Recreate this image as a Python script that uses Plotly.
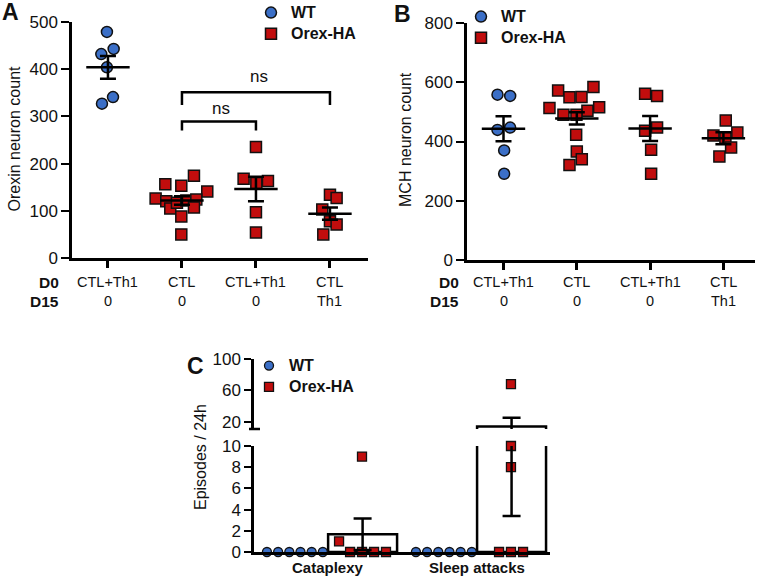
import plotly.graph_objects as go

W, H = 765, 579
def fx(px): return px / W
def fy(py): return 1 - py / H

# ---------------- data ----------------
cat_pos = [0, 1, 2, 3]
d0_labels = ["CTL+Th1", "CTL", "CTL+Th1", "CTL"]
d15_labels = ["0", "0", "0", "Th1"]

# Panel A : orexin neuron count
a_wt = [479, 432, 443, 404, 341, 327]
a_ctl = [126, 120, 105, 156, 153, 174, 141, 117, 122, 124, 107, 88, 50]
a_ctlth1 = [168, 235, 159, 163, 97, 54]
a_th1 = [134, 127, 103, 78, 71, 50]
a_mean = [404, 122, 146, 94]
a_sem = [24, 9, 26, 13]

# Panel B : MCH neuron count
b_wt = [558, 554, 439, 447, 370, 291]
b_ctl = [513, 572, 549, 550, 584, 516, 504, 490, 490, 423, 366, 340, 321]
b_ctlth1 = [561, 554, 436, 447, 372, 291]
b_th1 = [471, 420, 430, 413, 380, 349]
b_mean = [443, 478, 444, 411]
b_sem = [42, 21, 42, 20]

# Panel C : episodes / 24h
c_groups = ["Cataplexy", "Sleep attacks"]
c_wt_cat = [0, 0, 0, 0, 0, 0]
c_wt_sleep = [0, 0, 0, 0, 0, 0]
c_orex_cat = [1, 0, 0, 9, 0, 0]
c_orex_sleep = [0, 0, 68, 10, 8, 0]
c_mean = [1.67, 14.3]
c_sem = [1.48, 10.9]

# ---------------- layout helpers (scatter offsets) ----------------
a_off = [
    [-0.014, -0.09, 0.077, -0.014, 0.068, -0.081],
    [-0.356, -0.212, -0.158, -0.225, -0.009, 0.162, 0.342, -0.068, 0.059, 0.194, 0.162, -0.009, -0.009],
    [-0.167, 0.0, 0.005, 0.162, 0.0, 0.0],
    [0.0, 0.09, -0.104, 0.0, 0.09, -0.09],
]
b_off = [
    [-0.082, 0.091, -0.082, 0.091, 0.009, 0.009],
    [-0.373, -0.255, -0.1, 0.064, 0.227, 0.305, 0.145, -0.182, -0.005, -0.009, 0.0, 0.068, -0.1],
    [-0.068, 0.095, -0.068, 0.095, 0.014, 0.014],
    [0.032, -0.136, 0.19, 0.027, 0.105, -0.055],
]
c_group_x = [1, 2]
c_wt_off = [-0.41 + 0.075 * i for i in range(6)]
c_orex_cat_off = [0.074, 0.148, 0.228, 0.228, 0.309, 0.389]
c_orex_sleep_off = [0.148, 0.228, 0.228, 0.228, 0.228, 0.309]
c_bar_off, c_bar_w = 0.232, 0.463

BLUE = "#3b6fc7"
RED = "#c10d0d"
FONT = "Arial, Liberation Sans, sans-serif"
INK = "#111"

def legname(s):
    return "<span style='font-size:16px'><b>%s</b></span>" % s

fig = go.Figure()

def jitter(cat, offs):
    return [cat + o for o in offs]

def scatter_panel(xa, ya, groups, offs, means, sems, legend):
    fig.add_trace(go.Scatter(
        x=jitter(cat_pos[0], offs[0]), y=groups[0], mode="markers", name=legname("WT"),
        marker=dict(symbol="circle", size=11, color=BLUE, line=dict(color=INK, width=1.5)),
        xaxis=xa, yaxis=ya, legend=legend, showlegend=True, cliponaxis=False))
    for k in range(1, 4):
        fig.add_trace(go.Scatter(
            x=jitter(cat_pos[k], offs[k]), y=groups[k], mode="markers", name=legname("Orex-HA"),
            marker=dict(symbol="square", size=11, color=RED, line=dict(color=INK, width=1.5)),
            xaxis=xa, yaxis=ya, legend=legend, showlegend=(k == 1), cliponaxis=False))
    fig.add_trace(go.Scatter(
        x=cat_pos, y=means, mode="markers", showlegend=False,
        marker=dict(symbol="line-ew", size=31, color="black", line=dict(color="black", width=2.5)),
        error_y=dict(type="data", array=sems, visible=True, color="black", thickness=2.5, width=8),
        xaxis=xa, yaxis=ya, cliponaxis=False))

scatter_panel("x", "y", [a_wt, a_ctl, a_ctlth1, a_th1], a_off, a_mean, a_sem, "legend")
scatter_panel("x2", "y2", [b_wt, b_ctl, b_ctlth1, b_th1], b_off, b_mean, b_sem, "legend2")

# brackets in A
bracket_pairs = [[1, 2], [1, 3]]
bracket_tops = [289, 351]
bracket_feet = [270, 324]
bracket_text_x = [1.53, 2.04]
bracket_text_y = [317, 384]
for (l, r), top, foot in zip(bracket_pairs, bracket_tops, bracket_feet):
    fig.add_trace(go.Scatter(x=[l, l, r, r], y=[foot, top, top, foot], mode="lines",
                             line=dict(color="black", width=2.5), showlegend=False,
                             xaxis="x", yaxis="y", hoverinfo="skip"))

# ---------------- panel C ----------------
BREAK_LO, BREAK_HI = 10, 11
def split(xs, ys, low=True):
    if low:
        pts = [(a, b) for a, b in zip(xs, ys) if b <= BREAK_LO]
    else:
        pts = [(a, b) for a, b in zip(xs, ys) if b >= BREAK_HI]
    return [p[0] for p in pts], [p[1] for p in pts]

bar_x = [g + c_bar_off for g in c_group_x]
for ya, xa in (("y3", "x3"), ("y4", "x4")):
    fig.add_trace(go.Bar(x=bar_x, y=c_mean, width=c_bar_w, marker=dict(color="rgba(0,0,0,0)",
                         line=dict(color="black", width=2.5)), showlegend=False,
                         xaxis=xa, yaxis=ya, hoverinfo="skip"))

wt_x = jitter(c_group_x[0], c_wt_off) + jitter(c_group_x[1], c_wt_off)
wt_y = c_wt_cat + c_wt_sleep
or_x = jitter(c_group_x[0], c_orex_cat_off) + jitter(c_group_x[1], c_orex_sleep_off)
or_y = c_orex_cat + c_orex_sleep

for low, xa, ya in ((True, "x3", "y3"), (False, "x4", "y4")):
    xs, ys = split(wt_x, wt_y, low)
    fig.add_trace(go.Scatter(x=xs, y=ys, mode="markers", name=legname("WT"),
                             marker=dict(symbol="circle", size=9, color=BLUE, line=dict(color=INK, width=1.3)),
                             xaxis=xa, yaxis=ya, legend="legend3", showlegend=low, cliponaxis=False))
    xs, ys = split(or_x, or_y, low)
    fig.add_trace(go.Scatter(x=xs, y=ys, mode="markers", name=legname("Orex-HA"),
                             marker=dict(symbol="square", size=9, color=RED, line=dict(color=INK, width=1.3)),
                             xaxis=xa, yaxis=ya, legend="legend3", showlegend=low, cliponaxis=False))
    fig.add_trace(go.Scatter(x=bar_x, y=c_mean, mode="markers", showlegend=False,
                             marker=dict(size=1, color="rgba(0,0,0,0)"),
                             error_y=dict(type="data", array=c_sem, visible=True, color="black",
                                          thickness=2.5, width=9),
                             xaxis=xa, yaxis=ya, hoverinfo="skip"))

# ---------------- axes ----------------
axis_common = dict(showline=True, linecolor="black", linewidth=2.5, showgrid=False, zeroline=False,
                   ticks="outside", tickcolor="black", tickwidth=2,
                   tickfont=dict(family=FONT, size=17, color=INK))

fig.update_layout(
    width=W, height=H, margin=dict(l=0, r=0, t=0, b=0, autoexpand=False),
    plot_bgcolor="white", paper_bgcolor="white", barmode="overlay",
    font=dict(family=FONT, color=INK),
    xaxis=dict(axis_common, domain=[fx(72), fx(368)], range=[-0.486, 3.514], anchor="y",
               tickvals=cat_pos, showticklabels=False, ticklen=7, tickwidth=2.5),
    yaxis=dict(axis_common, domain=[fy(258), fy(22)], range=[0, 500], anchor="x",
               tickvals=[0, 100, 200, 300, 400, 500], ticklen=8),
    xaxis2=dict(axis_common, domain=[fx(467), fx(755)], range=[-0.498, 3.431], anchor="y2",
                tickvals=cat_pos, showticklabels=False, ticklen=7, tickwidth=2.5),
    yaxis2=dict(axis_common, domain=[fy(260), fy(23)], range=[0, 800], anchor="x2",
                tickvals=[0, 200, 400, 600, 800], ticklen=8),
    xaxis3=dict(axis_common, domain=[fx(254), fx(550)], range=[0.503, 2.49], anchor="y3",
                ticks="", showticklabels=False),
    yaxis3=dict(axis_common, domain=[fy(552), fy(446)], range=[0, 10], anchor="x3",
                tickvals=[0, 2, 4, 6, 8, 10], ticklen=7),
    xaxis4=dict(domain=[fx(254), fx(550)], range=[0.503, 2.49], anchor="y4", visible=False,
                matches="x3"),
    yaxis4=dict(axis_common, domain=[fy(429), fy(359)], range=[BREAK_HI, 100], anchor="x4",
                tickvals=[20, 60, 100], ticklen=7),
)

leg_common = dict(font=dict(family=FONT, size=14, color=INK), bgcolor="rgba(0,0,0,0)",
                  xanchor="left", yanchor="top", traceorder="normal", itemsizing="trace")
fig.update_layout(
    legend=dict(leg_common, x=fx(251), y=fy(-3)),
    legend2=dict(leg_common, x=fx(461), y=fy(1)),
    legend3=dict(leg_common, x=fx(249), y=fy(350)),
)

ann = []
def txt(x, y, s, size=16, bold=False, xref="paper", yref="paper", xanchor="center", angle=0):
    ann.append(dict(x=x, y=y, xref=xref, yref=yref, text=("<b>%s</b>" % s) if bold else s,
                    showarrow=False, xanchor=xanchor, yanchor="middle", textangle=angle,
                    font=dict(family=FONT, size=size, color=INK)))

txt(fx(10), fy(12), "A", 23, True)
txt(fx(402), fy(14), "B", 23, True)
txt(fx(195), fy(366), "C", 23, True)
txt(fx(13.5), fy(139), "Orexin neuron count", 16, angle=-90)
txt(fx(405), fy(140), "MCH neuron count", 16, angle=-90)
txt(fx(200), fy(457), "Episodes / 24h", 16, angle=-90)
for xref, hdr_x in (("x", 61), ("x2", 461)):
    txt(fx(hdr_x), fy(282), "D0", 15.5, True, xanchor="right")
    txt(fx(hdr_x), fy(301), "D15", 15.5, True, xanchor="right")
    for c, l0, l15 in zip(cat_pos, d0_labels, d15_labels):
        txt(c, fy(282), l0, 14.5, xref=xref)
        txt(c, fy(301), l15, 14.5, xref=xref)
for g, name in zip(c_group_x, c_groups):
    txt(g, fy(567), name, 15, True, xref="x3")
for bx, by in zip(bracket_text_x, bracket_text_y):
    txt(bx, by, "ns", 17, xref="x", yref="y")

fig.update_layout(annotations=ann)

fig.add_shape(type="line", xref="paper", yref="paper", x0=fx(249), x1=fx(260), y0=fy(429), y1=fy(429),
              line=dict(color="black", width=2.5))

fig.write_html("out.html", config={"displayModeBar": False},
               post_script="document.body.style.margin='0';document.body.style.overflow='hidden';")
